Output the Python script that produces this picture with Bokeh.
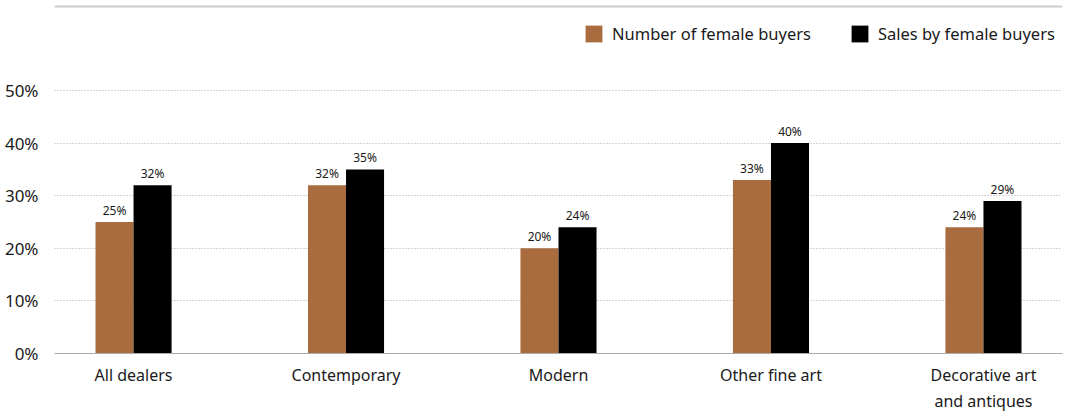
from bokeh.plotting import figure
from bokeh.models import ColumnDataSource, FixedTicker, Range1d, Legend, LegendItem, Span
from bokeh.transform import dodge
from bokeh.embed import file_html
from bokeh.resources import INLINE
from bokeh.core.properties import value

categories = ["All dealers", "Contemporary", "Modern", "Other fine art", "Decorative art\nand antiques"]
number_female = [25, 32, 20, 33, 24]
sales_female = [32, 35, 24, 40, 29]
y_ticks = [0, 10, 20, 30, 40, 50]

FONT = "Noto Sans"
ORANGE = "#A96C3E"
TXT = "#1a1a1a"

xs = list(range(len(categories)))
src = ColumnDataSource(dict(
    x=xs,
    num=number_female,
    sales=sales_female,
    num_lbl=[f"{v}%" for v in number_female],
    sales_lbl=[f"{v}%" for v in sales_female],
))

p = figure(width=1070, height=419, output_backend="svg", toolbar_location=None,
           x_range=Range1d(-0.372, 4.372), y_range=Range1d(0, 66.35),
           min_border_left=54, min_border_right=8, min_border_top=4, min_border_bottom=66)
p.outline_line_color = None

w = 0.179
r1 = p.vbar(x=dodge("x", -w / 2, range=p.x_range), top="num", width=w, source=src,
            fill_color=ORANGE, line_color=None)
r2 = p.vbar(x=dodge("x", w / 2, range=p.x_range), top="sales", width=w, source=src,
            fill_color="black", line_color=None)

for col, off in (("num_lbl", -w / 2), ("sales_lbl", w / 2)):
    top = "num" if col == "num_lbl" else "sales"
    p.text(x=dodge("x", off, range=p.x_range), y=top, text=col, source=src,
           text_align="center", text_baseline="bottom", y_offset=-3,
           text_font=value(FONT), text_font_size="12px", text_color=TXT)

# top rule
p.add_layout(Span(location=65.97, dimension="width", line_color="#cccccc", line_width=2))

# axes
p.xaxis.ticker = FixedTicker(ticks=xs)
p.xaxis.major_label_overrides = {i: c for i, c in enumerate(categories)}
p.xaxis.major_tick_line_color = None
p.xaxis.minor_tick_line_color = None
p.xaxis.axis_line_color = "#aaaaaa"
p.xaxis.axis_line_width = 1
p.xaxis.major_label_standoff = 4
p.xaxis.major_label_text_font = FONT
p.xaxis.major_label_text_font_size = "16px"
p.xaxis.major_label_text_color = TXT

p.yaxis.ticker = FixedTicker(ticks=y_ticks)
p.yaxis.major_label_overrides = {t: f"{t}%" for t in y_ticks}
p.yaxis.axis_line_color = None
p.yaxis.major_tick_line_color = None
p.yaxis.minor_tick_line_color = None
p.yaxis.major_label_standoff = 10
p.yaxis.major_label_text_font = FONT
p.yaxis.major_label_text_font_size = "17px"
p.yaxis.major_label_text_color = TXT

p.xgrid.grid_line_color = None
p.ygrid.ticker = FixedTicker(ticks=y_ticks[1:])
p.ygrid.grid_line_color = "#aaaaaa"
p.ygrid.grid_line_dash = "1 2"
p.ygrid.grid_line_width = 1

legend = Legend(items=[LegendItem(label="Number of female buyers", renderers=[r1]),
                       LegendItem(label="Sales by female buyers", renderers=[r2])],
                location=(529, 308), orientation="horizontal",
                padding=0, margin=0, spacing=38, glyph_width=21, glyph_height=21,
                label_height=21, label_standoff=8,
                label_text_font=FONT, label_text_font_size="16.5px", label_text_color=TXT,
                border_line_color=None, background_fill_alpha=0)
p.add_layout(legend)

open("out.html", "w").write(file_html(p, INLINE))
